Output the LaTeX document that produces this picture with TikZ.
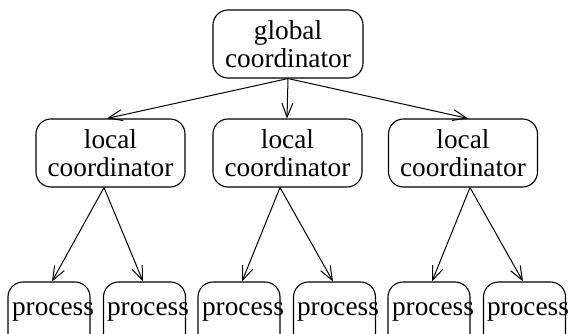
\documentclass[tikz,border=0pt]{standalone}
\usepackage{fontspec}
\setmainfont{Liberation Serif}
\newfontfamily\diagfont{Liberation Serif}
\usetikzlibrary{arrows.meta,calc}
\begin{document}
\begin{tikzpicture}[x=1pt,y=1pt,
  every node/.style={font=\diagfont\fontsize{27.3}{28}\selectfont},
  coord/.style={draw,line width=1.1pt,rounded corners=15pt,minimum width=150pt,minimum height=68pt,align=center,inner sep=0pt},
  procbox/.style={draw,line width=1.1pt,rounded corners=15pt,minimum width=82pt,minimum height=72pt,inner sep=0pt},
  proctext/.style={anchor=base,inner sep=0pt},
  arr/.style={line width=1pt,-{Straight Barb[length=14pt,width=11pt,line width=1pt]}}]
\useasboundingbox (0,0) rectangle (568,333);
\clip (0,0) rectangle (568,333);
% global
\node[coord] (g) at (288,289) {global\\coordinator};
% local
\node[coord,minimum width=149pt] (l1) at (110.5,180) {local\\coordinator};
\node[coord,minimum width=149pt] (l2) at (287.5,180) {local\\coordinator};
\node[coord,minimum width=149pt] (l3) at (463,180) {local\\coordinator};
% process boxes
\node[procbox] (b1) at (49,15) {};
\node[procbox] (b2) at (144.5,15) {};
\node[procbox] (b3) at (239,15) {};
\node[procbox] (b4) at (334.5,15) {};
\node[procbox] (b5) at (429,15) {};
\node[procbox] (b6) at (524.5,15) {};
\node[proctext] (t1) at (53,18) {process};
\node[proctext] (t2) at (148,18) {process};
\node[proctext] (t3) at (243,18) {process};
\node[proctext] (t4) at (338,18) {process};
\node[proctext] (t5) at (433,18) {process};
\node[proctext] (t6) at (528,18) {process};
% arrows global -> local
\draw[arr] (g.south) -- ($(l1.north)+(-3.5,0)$);
\draw[arr] (g.south) -- ($(l2.north)+(-0.5,0)$);
\draw[arr] (g.south) -- ($(l3.north)+(5,0)$);
% arrows local -> process
\draw[arr] ($(l1.south)+(-6.5,0)$) -- ($(b1.north)+(3,0)$);
\draw[arr] ($(l1.south)+(-6.5,0)$) -- ($(b2.north)+(-1.5,0)$);
\draw[arr] ($(l2.south)+(-7.5,0)$) -- ($(b3.north)+(3,0)$);
\draw[arr] ($(l2.south)+(-7.5,0)$) -- ($(b4.north)+(-1.5,0)$);
\draw[arr] ($(l3.south)+(7,0)$) -- ($(b5.north)+(3,0)$);
\draw[arr] ($(l3.south)+(7,0)$) -- ($(b6.north)+(-1.5,0)$);
\end{tikzpicture}
\end{document}
